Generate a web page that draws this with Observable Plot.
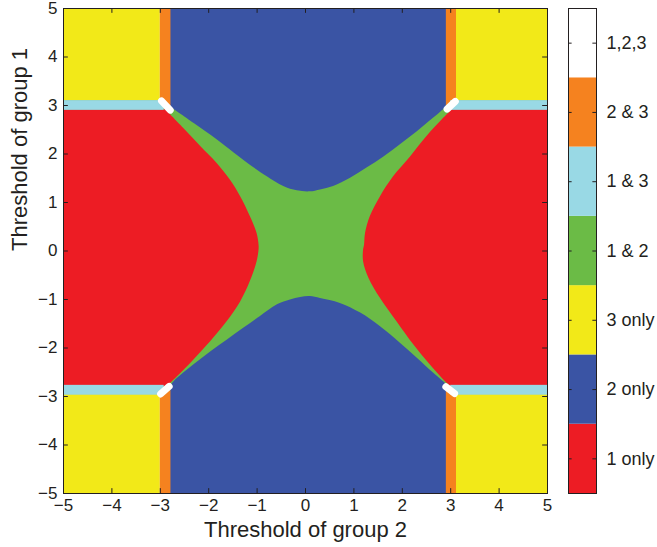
<!DOCTYPE html>
<html><head><meta charset="utf-8">
<script src="https://cdn.jsdelivr.net/npm/d3@7"></script>
<script src="https://cdn.jsdelivr.net/npm/@observablehq/plot@0.6"></script>
<style>
body{margin:0;background:#fff}
#wrap{position:relative;width:657px;height:547px}
#wrap svg{position:absolute;top:0;background:transparent}
</style>
</head><body><div id="wrap"></div>
<script>
// ---- categories & colours (colour bar, bottom to top) ----
const categories = ["1 only", "2 only", "3 only", "1 & 2", "1 & 3", "2 & 3", "1,2,3"];
const colors = ["#ED1C24", "#3A54A4", "#F2E918", "#6BBB46", "#99D9E5", "#F5821F", "#FFFFFF"];
const xTicks = [-5, -4, -3, -2, -1, 0, 1, 2, 3, 4, 5];
const yTicks = [-5, -4, -3, -2, -1, 0, 1, 2, 3, 4, 5];

// ---- rectangular regions [x1, x2, y1, y2] in threshold units ----
const greenBand = [[-5, 5, -2.97, 3.1]];
const yellowRects = [[-5, -3.0, 3.1, 5], [3.12, 5, 3.1, 5], [-5, -3.0, -5, -2.97], [3.12, 5, -5, -2.97]];
const orangeRects = [[-3.0, -2.78, 2.98, 5], [2.91, 3.12, 2.98, 5], [-3.0, -2.78, -5, -2.88], [2.91, 3.12, -5, -2.88]];
const lightBlueRects = [[-5, -2.92, 2.9, 3.1], [3.0, 5, 2.9, 3.1], [-5, -2.92, -2.97, -2.77], [3.0, 5, -2.97, -2.77]];

// ---- boundary curves ----
// lower edge of the upper "2 only" region [x, y]
const upperBlueEdge = [[-2.79, 2.97], [-2.3, 2.63], [-1.82, 2.29], [-1.14, 1.77], [-0.79, 1.53], [-0.45, 1.33],
  [-0.17, 1.24], [0.10, 1.22], [0.31, 1.26], [0.58, 1.33], [0.93, 1.50], [1.27, 1.71], [1.62, 1.94],
  [1.96, 2.19], [2.31, 2.46], [2.65, 2.74], [2.93, 2.98]];
// upper edge of the lower "2 only" region [x, y]
const lowerBlueEdge = [[-2.79, -2.78], [-2.65, -2.63], [-2.31, -2.35], [-1.96, -2.08], [-1.62, -1.84],
  [-1.27, -1.59], [-0.93, -1.35], [-0.58, -1.11], [-0.31, -1.01], [-0.10, -0.96], [0.10, -0.94],
  [0.31, -0.98], [0.72, -1.08], [1.14, -1.28], [1.55, -1.56], [1.96, -1.90], [2.31, -2.21],
  [2.65, -2.52], [2.93, -2.76]];
// right edge of the left "1 only" region [y, x]
const leftRedEdge = [[2.91, -2.89], [2.53, -2.52], [2.15, -2.16], [1.81, -1.83], [1.46, -1.55], [1.12, -1.34],
  [0.71, -1.14], [0.36, -1.00], [0.12, -0.96], [0.02, -0.96], [-0.22, -1.00], [-0.63, -1.14],
  [-1.05, -1.34], [-1.46, -1.62], [-1.87, -1.96], [-2.25, -2.31], [-2.60, -2.65], [-2.80, -2.86]];
// left edge of the right "1 only" region [y, x]
const rightRedEdge = [[2.94, 3.06], [2.74, 2.86], [2.36, 2.51], [1.94, 2.17], [1.53, 1.82], [1.12, 1.55],
  [0.71, 1.34], [0.36, 1.24], [0.12, 1.22], [0.02, 1.20], [-0.22, 1.20], [-0.56, 1.31], [-0.98, 1.55],
  [-1.46, 1.89], [-1.94, 2.24], [-2.35, 2.58], [-2.73, 2.93], [-2.83, 3.06]];
// small "1,2,3" lenses at the four corners [x1, y1, x2, y2]
const whiteLenses = [[-2.975, 3.095, -2.795, 2.905], [2.925, 2.925, 3.095, 3.085],
  [-2.993, -2.947, -2.817, -2.793], [2.90, -2.80, 3.08, -2.94]];

const col = Object.fromEntries(categories.map((c, i) => [c, colors[i]]));
const FONT = "'Liberation Sans', Arial, Helvetica, sans-serif";
const INK = "#231f20";
const fmt = d => d < 0 ? "\u2212" + (-d) : String(d);
const rectOpts = f => ({x1: d => d[0], x2: d => d[1], y1: d => d[2], y2: d => d[3], fill: f, inset: 0});

const main = Plot.plot({
  width: 657, height: 547,
  marginLeft: 63, marginRight: 110, marginTop: 8, marginBottom: 54,
  x: {domain: [-5, 5]},
  y: {domain: [-5, 5]},
  style: {fontFamily: FONT, fontSize: "17px", color: INK, background: "transparent"},
  marks: [
    Plot.rect(greenBand, rectOpts(col["1 & 2"])),
    Plot.areaX(leftRedEdge, {y: d => d[0], x1: -5, x2: d => d[1], fill: col["1 only"], curve: "catmull-rom"}),
    Plot.areaX(rightRedEdge, {y: d => d[0], x1: d => d[1], x2: 5, fill: col["1 only"], curve: "catmull-rom"}),
    Plot.areaY(upperBlueEdge, {x: d => d[0], y1: d => d[1], y2: 5, fill: col["2 only"], curve: "catmull-rom"}),
    Plot.areaY(lowerBlueEdge, {x: d => d[0], y1: -5, y2: d => d[1], fill: col["2 only"], curve: "catmull-rom"}),
    Plot.rect(yellowRects, rectOpts(col["3 only"])),
    Plot.rect(orangeRects, rectOpts(col["2 & 3"])),
    Plot.rect(lightBlueRects, rectOpts(col["1 & 3"])),
    Plot.link(whiteLenses, {x1: d => d[0], y1: d => d[1], x2: d => d[2], y2: d => d[3],
      stroke: col["1,2,3"], strokeWidth: 7, strokeLinecap: "round"}),
    // inward ticks on all four sides
    Plot.ruleX(xTicks, {x: d => d, y1: -5, y2: -4.9, stroke: INK}),
    Plot.ruleX(xTicks, {x: d => d, y1: 4.9, y2: 5, stroke: INK}),
    Plot.ruleY(yTicks, {y: d => d, x1: -5, x2: -4.9, stroke: INK}),
    Plot.ruleY(yTicks, {y: d => d, x1: 4.9, x2: 5, stroke: INK}),
    Plot.axisX({ticks: xTicks, tickSize: 0, tickPadding: 5, tickFormat: fmt, label: null, fontSize: 17}),
    Plot.axisY({ticks: yTicks, tickSize: 0, tickPadding: 6, tickFormat: fmt, label: null, fontSize: 17}),
    Plot.text(["Threshold of group 2"], {frameAnchor: "bottom", dy: 36, text: d => d, fontSize: 22, lineAnchor: "middle", fill: INK}),
    Plot.text(["Threshold of group 1"], {frameAnchor: "left", dx: -44, rotate: -90, text: d => d, fontSize: 22, lineAnchor: "middle", fill: INK}),
    Plot.frame({stroke: INK, strokeWidth: 1})
  ]
});
main.style.left = "0px";

const bar = Plot.plot({
  width: 107, height: 547,
  marginLeft: 18, marginRight: 61, marginTop: 8, marginBottom: 54,
  x: {domain: [0, 1], axis: null},
  y: {domain: [0, categories.length], axis: null},
  style: {fontFamily: FONT, fontSize: "18px", color: INK, background: "transparent", overflow: "visible"},
  marks: [
    Plot.rect(categories, {x1: 0, x2: 1, y1: (d, i) => i, y2: (d, i) => i + 1, fill: d => col[d]}),
    Plot.ruleY(categories, {y: (d, i) => i + 0.5, x1: 0, x2: 0.13, stroke: INK}),
    Plot.ruleY(categories, {y: (d, i) => i + 0.5, x1: 0.87, x2: 1, stroke: INK}),
    Plot.text(categories, {x: 1, y: (d, i) => i + 0.5, text: d => d, textAnchor: "start", dx: 10, fontSize: 18, fill: INK}),
    Plot.frame({stroke: INK, strokeWidth: 1})
  ]
});
bar.style.left = "550px";

document.getElementById("wrap").append(main, bar);
</script>
</body></html>
